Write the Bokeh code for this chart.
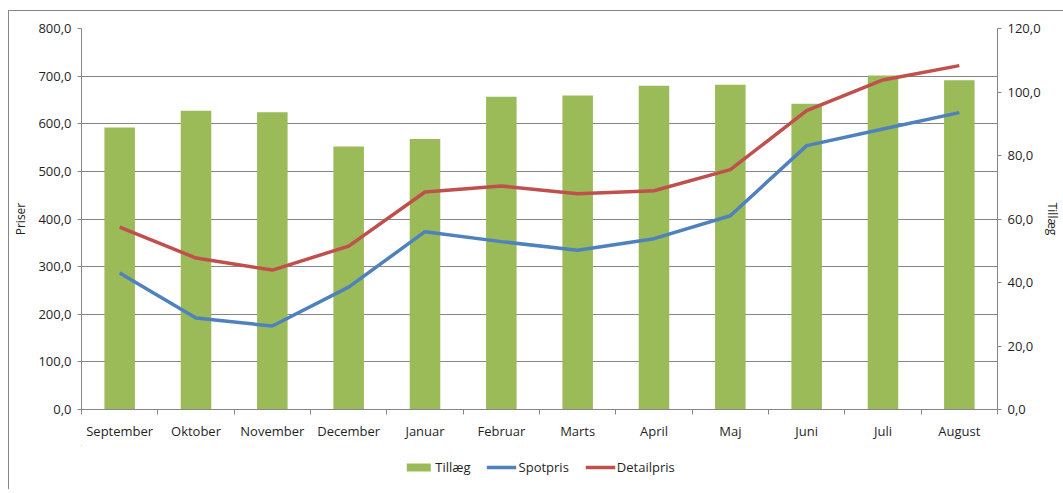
import numpy as np
from bokeh.plotting import figure
from bokeh.layouts import column
from bokeh.models import (Range1d, LinearAxis, FixedTicker, CustomJSTickFormatter,
                          Legend, LegendItem, ColumnDataSource)
from bokeh.embed import file_html
from bokeh.resources import INLINE

months = ["September", "Oktober", "November", "December", "Januar", "Februar",
          "Marts", "April", "Maj", "Juni", "Juli", "August"]
tillaeg = [88.8, 94.1, 93.6, 82.8, 85.2, 98.5, 98.9, 102.0, 102.3, 96.3, 105.2, 103.7]
spotpris = [286.6, 192.0, 175.2, 257.0, 373.4, 352.5, 334.4, 358.7, 406.9, 554.0, 589.0, 623.3]
detailpris = [383.0, 318.0, 292.8, 343.0, 456.7, 469.3, 453.0, 459.4, 503.6, 627.5, 692.0, 722.0]
left_ticks = [0, 100, 200, 300, 400, 500, 600, 700, 800]
right_ticks = [0, 20, 40, 60, 80, 100, 120]

FONT = "Open Sans"
TXT = "#1f1f1f"
GRID = "#868686"
GREEN = "#9BBB59"
BLUE = "#4F81BD"
RED = "#C0504D"

n = len(months)
centers = list(np.arange(n) + 0.5)
bounds = list(np.arange(n + 1).astype(float))

src = ColumnDataSource(dict(x=centers, tillaeg=tillaeg, spot=spotpris, detail=detailpris))

W = 1054
p = figure(width=W, height=434, output_backend="svg", toolbar_location=None,
           x_range=Range1d(0, n), y_range=Range1d(0, 800),
           min_border_left=70, min_border_top=17, min_border_right=58, min_border_bottom=36)
p.extra_y_ranges = {"right": Range1d(0, 120)}
p.outline_line_color = None
p.background_fill_color = "white"
p.border_fill_color = "white"

fmt = CustomJSTickFormatter(code="return tick.toFixed(1).replace('.', ',');")

# left axis
p.yaxis.ticker = FixedTicker(ticks=left_ticks)
p.yaxis.formatter = fmt
p.yaxis.axis_label = "Priser"
p.yaxis.axis_label_text_font = FONT
p.yaxis.axis_label_text_font_size = "12px"
p.yaxis.axis_label_text_font_style = "normal"
p.yaxis.axis_label_text_color = TXT
p.yaxis.axis_label_standoff = 6
p.yaxis.major_label_text_font = FONT
p.yaxis.major_label_text_font_size = "13px"
p.yaxis.major_label_text_color = TXT
p.yaxis.major_label_standoff = 6
p.yaxis.axis_line_color = GRID
p.yaxis.major_tick_line_color = GRID
p.yaxis.major_tick_out = 4
p.yaxis.major_tick_in = 0
p.yaxis.minor_tick_line_color = None

p.ygrid.ticker = FixedTicker(ticks=left_ticks)
p.ygrid.grid_line_color = GRID
p.ygrid.grid_line_width = 1
p.xgrid.grid_line_color = None

# right axis
ra = LinearAxis(y_range_name="right", ticker=FixedTicker(ticks=right_ticks), formatter=fmt)
ra.axis_label = "Tillæg"
ra.axis_label_text_font = FONT
ra.axis_label_text_font_size = "12px"
ra.axis_label_text_font_style = "normal"
ra.axis_label_text_color = TXT
ra.axis_label_standoff = 0
ra.major_label_text_font = FONT
ra.major_label_text_font_size = "13px"
ra.major_label_text_color = TXT
ra.major_label_standoff = 6
ra.axis_line_color = GRID
ra.major_tick_line_color = GRID
ra.major_tick_out = 4
ra.major_tick_in = 0
ra.minor_tick_line_color = None
p.add_layout(ra, "right")

# bottom axis
labels_js = CustomJSTickFormatter(args=dict(names=months),
                                  code="return names[Math.floor(tick)];")
p.xaxis.ticker = FixedTicker(ticks=centers, minor_ticks=bounds)
p.xaxis.formatter = labels_js
p.xaxis.major_tick_line_color = None
p.xaxis.major_tick_out = 5
p.xaxis.major_tick_in = 0
p.xaxis.minor_tick_line_color = GRID
p.xaxis.minor_tick_out = 5
p.xaxis.minor_tick_in = 0
p.xaxis.axis_line_color = GRID
p.xaxis.major_label_text_font = FONT
p.xaxis.major_label_text_font_size = "13px"
p.xaxis.major_label_text_color = TXT
p.xaxis.major_label_standoff = 7

p.vbar(x="x", top="tillaeg", width=0.4, source=src, y_range_name="right",
       fill_color=GREEN, line_color=None)
p.line(x="x", y="spot", source=src, line_color=BLUE, line_width=3.5)
p.line(x="x", y="detail", source=src, line_color=RED, line_width=3.5)

# legend strip (same series, kept far outside its visible range so only the legend shows)
lg = figure(width=W, height=44, output_backend="svg", toolbar_location=None,
            x_range=Range1d(1000, 1001), y_range=Range1d(-2000, -1999),
            min_border_left=70, min_border_right=58, min_border_top=0, min_border_bottom=0)
lg.axis.visible = False
lg.grid.visible = False
lg.outline_line_color = None
lg.border_fill_color = "white"
lg.background_fill_color = "white"
b2 = lg.vbar(x="x", top="tillaeg", width=0.4, source=src, fill_color=GREEN, line_color=None)
s2 = lg.line(x="x", y="spot", source=src, line_color=BLUE, line_width=3.5)
d2 = lg.line(x="x", y="detail", source=src, line_color=RED, line_width=3.5)
legend = Legend(items=[LegendItem(label="Tillæg", renderers=[b2]),
                       LegendItem(label="Spotpris", renderers=[s2]),
                       LegendItem(label="Detailpris", renderers=[d2])],
                orientation="horizontal", location="center")
legend.label_text_font = FONT
legend.label_text_font_size = "13px"
legend.label_text_color = TXT
legend.glyph_width = 30
legend.glyph_height = 10
legend.label_standoff = 2
legend.spacing = 16
legend.padding = 2
legend.margin = 0
legend.border_line_color = None
legend.background_fill_alpha = 0
lg.add_layout(legend, "center")

layout = column(p, lg, spacing=0)
layout.margin = (10, 0, 0, 8)
layout.styles = {"border-left": "1px solid #868686", "border-top": "1px solid #868686"}

open("out.html", "w").write(file_html(layout, INLINE))
